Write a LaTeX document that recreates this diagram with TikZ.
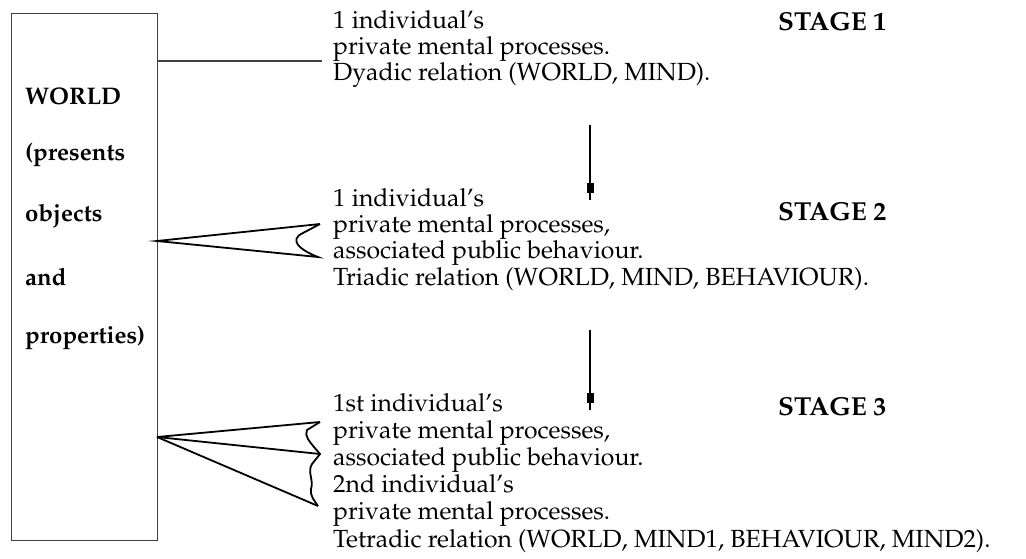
\documentclass[tikz,border=0pt]{standalone}
\usepackage[T1]{fontenc}
\usepackage{mathpazo}
\usetikzlibrary{positioning}

\begin{document}
\begin{tikzpicture}[
    x=1pt, y=-1pt,
    every node/.style={inner sep=0pt},
    stagetext/.style={anchor=north west, align=left, font=\fontsize{24.8}{26.3}\selectfont},
    stagelabel/.style={anchor=west, font=\fontsize{26}{28}\selectfont\bfseries},
    worldtext/.style={anchor=west, font=\fontsize{24}{26}\selectfont\bfseries},
    link/.style={line width=1.8pt, line join=miter},
    flow/.style={line width=2.4pt},
    tick/.style={fill=black, minimum width=7pt, minimum height=10pt}
]
    \useasboundingbox (0,0) rectangle (1026,559);

    % World box
    \node[draw, black!75, line width=1.2pt, minimum width=146pt, minimum height=527pt, anchor=north west] (world) at (11,13) {};
    \node[worldtext] (w1) at (25,96) {WORLD};
    \node[worldtext] (w2) at (25,155) {(presents};
    \node[worldtext] (w3) at (25,216) {objects};
    \node[worldtext] (w4) at (25,277) {and};
    \node[worldtext] (w5) at (25,338) {properties)};

    % Stages
    \node[stagetext] (one) at (333,10) {1 individual's\\private mental processes.\\Dyadic relation (WORLD, MIND).};
    \node[stagelabel] (lab1) at (778,22) {STAGE 1};
    \node[stagetext] (two) at (333,188) {1 individual's\\private mental processes,\\associated public behaviour.\\Triadic relation (WORLD, MIND, BEHAVIOUR).};
    \node[stagelabel] (lab2) at (778,212) {STAGE 2};
    \node[stagetext, font=\fontsize{24.8}{27.2}\selectfont] (three) at (333,393) {1st individual's\\private mental processes,\\associated public behaviour.\\2nd individual's\\private mental processes.\\Tetradic relation (WORLD, MIND1, BEHAVIOUR, MIND2).};
    \node[stagelabel] (lab3) at (778,407) {STAGE 3};

    % Stage 1 link
    \coordinate (s1) at (322,61);
    \draw[black!75, line width=1.1pt] (world.east |- s1) -- (s1);

    % Stage 2 link
    \coordinate (apex2) at (157,241);
    \coordinate (top2) at (320,224);
    \coordinate (bot2) at (318,257);
    \draw[link] (top2) -- (apex2) -- (bot2)
        .. controls (300,250) and (288,240) .. (303,233) -- (top2);

    % Stage 3 link
    \coordinate (apex3) at (157,437);
    \coordinate (top3) at (320,422);
    \coordinate (mid3) at (320,454);
    \coordinate (bot3) at (318,506);
    \draw[link] (top3) -- (apex3) -- (mid3);
    \draw[link] (apex3) -- (bot3);
    \draw[link] (top3) -- (307,430) .. controls (304,436) and (310,442) .. (314,447) -- (mid3)
        -- (312,464) .. controls (307,472) and (314,480) .. (311,489) .. controls (310,496) and (314,500) .. (bot3);

    % Stage arrows
    \coordinate (a1s) at (590,125);
    \coordinate (a1e) at (590,200);
    \coordinate (a2s) at (590,330);
    \coordinate (a2e) at (590,410);
    \draw[flow] (a1s) -- node[tick, pos=0.84] (t1) {} (a1e);
    \draw[flow] (a2s) -- node[tick, pos=0.85] (t2) {} (a2e);
\end{tikzpicture}
\end{document}
